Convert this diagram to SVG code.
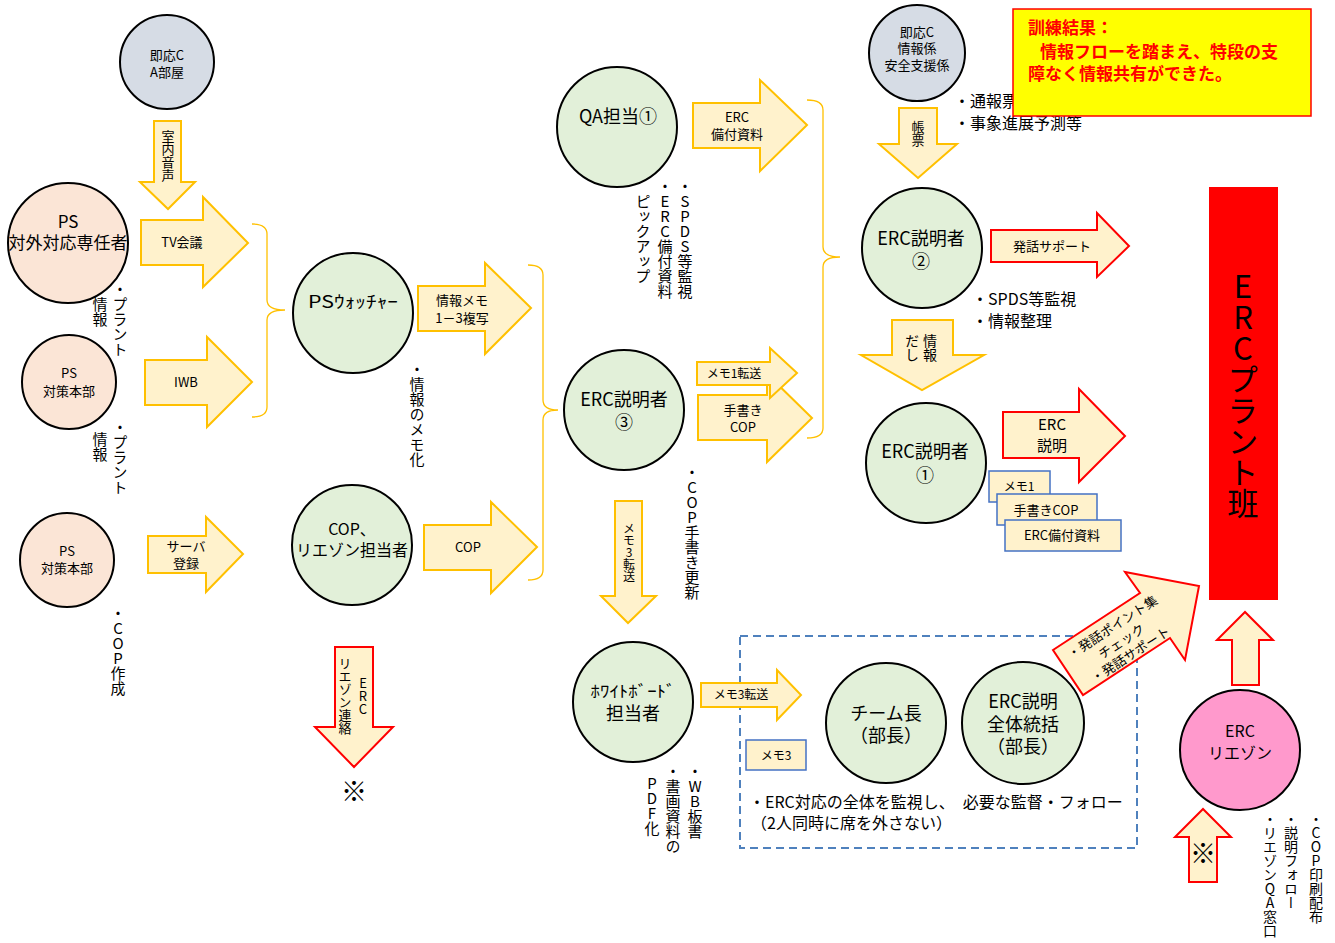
<svg xmlns="http://www.w3.org/2000/svg" width="1335" height="943" viewBox="0 0 1335 943">
<style>
.c{stroke:#000;stroke-width:2}
.g{fill:#e2f0d9}.p{fill:#fbe5d6}.b{fill:#d6dce5}.k{fill:#ff99cc}
.ya{fill:#fff2cc;stroke:#ffc000;stroke-width:2}
.ra{fill:#fff2cc;stroke:#ff0000;stroke-width:2}
.br{fill:none;stroke:#ffc000;stroke-width:1.3}
.mb{fill:#fff2cc;stroke:#4472c4;stroke-width:1.5}
text{font-family:"Noto Sans CJK JP","Noto Sans",sans-serif;fill:#000}
.m{text-anchor:middle}
.v{writing-mode:vertical-rl;text-orientation:upright}
.f12{font-size:12px}.f13{font-size:13px}.f14{font-size:14px}.f15{font-size:15px}.f16{font-size:16px}.f17{font-size:17px}.f18{font-size:18px}
.res{font-size:17px;font-weight:bold;fill:#ff0000}
</style>
<rect width="1335" height="943" fill="#fff"/>

<rect id="group-box" x="740" y="636" width="397" height="212" fill="none" stroke="#4f81bd" stroke-width="2" stroke-dasharray="8,5"/>

<g id="connectors">
  <path class="br" d="M252,224 Q267,224 267,234 L267,300 Q267,310 285,310 Q267,310 267,320 L267,407 Q267,417 252,417"/>
  <path class="br" d="M528,265 Q543,265 543,275 L543,400 Q543,410 558,410 Q543,410 543,420 L543,570 Q543,580 528,580"/>
  <path class="br" d="M807,100 Q823,100 823,110 L823,247 Q823,257 840,257 Q823,257 823,267 L823,428 Q823,438 807,438"/>

  <g id="a-shitsunai"><polygon class="ya" points="154,121 181,121 181,182 195,182 168,209 140,182 154,182"/><text class="f13 v" x="168" y="130">室内音声</text></g>
  <g id="a-tv"><polygon class="ya" points="141,220 203,220 203,197 248,243 203,287 203,265 141,265"/><text class="f13 m" x="182" y="247">TV会議</text></g>
  <g id="a-iwb"><polygon class="ya" points="145,360 207,360 207,337 252,382 207,427 207,405 145,405"/><text class="f13 m" x="186" y="387">IWB</text></g>
  <g id="a-server"><polygon class="ya" points="148,536 206,536 206,517 243,554 206,592 206,573 148,573"/><text class="f13 m" x="186" y="551">サーバ</text><text class="f13 m" x="186" y="568">登録</text></g>
  <g id="a-memo13"><polygon class="ya" points="418,286 485,286 485,263 531,308 485,354 485,331 418,331"/><text class="f13 m" x="462" y="305">情報メモ</text><text class="f13 m" x="462" y="323">1－3複写</text></g>
  <g id="a-cop"><polygon class="ya" points="424,525 491,525 491,502 537,547 491,593 491,570 424,570"/><text class="f13 m" x="468" y="552">COP</text></g>
  <g id="a-erc-doc"><polygon class="ya" points="693,103 760,103 760,80 807,125 760,171 760,148 693,148"/><text class="f13 m" x="737" y="122">ERC</text><text class="f13 m" x="737" y="139">備付資料</text></g>
  <g id="a-tegaki"><polygon class="ya" points="698,395 767,395 767,374 812,418 767,462 767,440 698,440"/><text class="f13 m" x="743" y="415">手書き</text><text class="f13 m" x="743" y="432">COP</text></g>
  <g id="a-memo1"><polygon class="ya" points="697,362 770,362 770,348 797,373 770,398 770,385 697,385"/><text class="f12 m" x="734" y="378">メモ1転送</text></g>
  <g id="a-memo3-down"><polygon class="ya" points="615,501 642,501 642,596 656,596 628,623 601,596 615,596"/><text class="f12 v" x="629" y="522">メモ3転送</text></g>
  <g id="a-memo3-right"><polygon class="ya" points="701,683 777,683 777,670 801,695 777,720 777,707 701,707"/><text class="f12 m" x="741" y="699">メモ3転送</text></g>
  <g id="a-liaison"><polygon class="ra" points="335,647 373,647 373,727 393,727 354,767 315,727 335,727"/><text class="f13 v m" x="363" y="696">ERC</text><text class="f13 v m" x="345" y="696">リエゾン連絡</text></g>
  <text class="m" x="354" y="801" font-size="26">※</text>
  <g id="a-chohyo"><polygon class="ya" points="899,108 937,108 937,144 957,144 918,178 879,144 899,144"/><text class="f13 v" x="918" y="121">帳票</text></g>
  <g id="a-joho"><polygon class="ya" points="892,320 953,320 953,355 984,355 922,390 861,355 892,355"/><text class="f14 v m" x="930" y="348">情報</text><text class="f14 v m" x="912" y="348">だし</text></g>
  <g id="a-hatsuwa"><polygon class="ra" points="991,230 1097,230 1097,213 1129,246 1097,277 1097,262 991,262"/><text class="f13 m" x="1052" y="251">発話サポート</text></g>
  <g id="a-erc-setsumei"><polygon class="ra" points="1003,412 1079,412 1079,389 1125,436 1079,482 1079,458 1003,458"/><text class="f15 m" x="1052" y="430">ERC</text><text class="f15 m" x="1052" y="451">説明</text></g>
  <g id="a-diag"><polygon class="ra" points="1053,650 1140,593 1125,572 1199,586 1185,660 1170,638 1083,695"/>
    <g transform="translate(1122,642) rotate(-33)"><text class="f13 m" x="0" y="-13">・発話ポイント集</text><text class="f13 m" x="0" y="4">チェック</text><text class="f13 m" x="0" y="20">・発話サポート</text></g></g>
  <g id="a-up-plant"><polygon class="ra" points="1232,685 1232,640 1217,640 1245,612 1273,640 1259,640 1259,685"/></g>
  <g id="a-up-kome"><polygon class="ra" points="1189,882 1189,837 1175,837 1203,809 1231,837 1217,837 1217,882"/><text class="m" x="1203" y="863" font-size="26">※</text></g>
</g>

<g id="n-sokuo-a"><circle class="c b" cx="167" cy="62" r="47"/><text class="f13 m" x="167" y="60">即応C</text><text class="f13 m" x="167" y="77">A部屋</text></g>
<g id="n-ps-taigai"><circle class="c p" cx="68" cy="243" r="60"/><text class="f17 m" x="68" y="228">PS</text><text class="f17 m" x="68" y="249">対外対応専任者</text></g>
<g id="n-ps-honbu1"><circle class="c p" cx="69" cy="382" r="47"/><text class="f13 m" x="69" y="378">PS</text><text class="f13 m" x="69" y="396">対策本部</text></g>
<g id="n-ps-honbu2"><circle class="c p" cx="67" cy="560" r="47"/><text class="f13 m" x="67" y="556">PS</text><text class="f13 m" x="67" y="573">対策本部</text></g>
<g id="n-ps-watcher"><circle class="c g" cx="353" cy="313" r="60"/><text class="f17 m" x="353" y="308" textLength="90" lengthAdjust="spacingAndGlyphs">PSｳｫｯﾁｬｰ</text></g>
<g id="n-cop-liaison"><circle class="c g" cx="352" cy="545" r="60"/><text class="f16 m" x="352" y="535">COP、</text><text class="f16 m" x="352" y="556">リエゾン担当者</text></g>
<g id="n-qa"><circle class="c g" cx="617" cy="127" r="60"/><text class="f18 m" x="618" y="123">QA担当①</text></g>
<g id="n-erc3"><circle class="c g" cx="624" cy="410" r="60"/><text class="f18 m" x="624" y="406">ERC説明者</text><text class="f18 m" x="624" y="429">③</text></g>
<g id="n-wb"><circle class="c g" cx="633" cy="702" r="60"/><text class="f16 m" x="633" y="697" textLength="85" lengthAdjust="spacingAndGlyphs">ﾎﾜｲﾄﾎﾞｰﾄﾞ</text><text class="f18 m" x="633" y="720">担当者</text></g>
<g id="n-sokuo-joho"><circle class="c b" cx="917" cy="53" r="48"/><text class="f13 m" x="917" y="37">即応C</text><text class="f13 m" x="917" y="53">情報係</text><text class="f13 m" x="917" y="70">安全支援係</text></g>
<g id="n-erc2"><circle class="c g" cx="922" cy="248" r="60"/><text class="f18 m" x="921" y="245">ERC説明者</text><text class="f18 m" x="921" y="268">②</text></g>
<g id="n-erc1"><circle class="c g" cx="926" cy="463" r="60"/><text class="f18 m" x="925" y="458">ERC説明者</text><text class="f18 m" x="925" y="482">①</text></g>
<g id="n-team"><circle class="c g" cx="886" cy="723" r="60"/><text class="f18 m" x="886" y="720">チーム長</text><text class="f18 m" x="886" y="742">（部長）</text></g>
<g id="n-erc-all"><circle class="c g" cx="1023" cy="723" r="61"/><text class="f18 m" x="1023" y="708">ERC説明</text><text class="f18 m" x="1023" y="731">全体統括</text><text class="f18 m" x="1023" y="753">（部長）</text></g>
<g id="n-erc-liaison"><circle class="c k" cx="1240" cy="750" r="60"/><text class="f16 m" x="1240" y="737">ERC</text><text class="f16 m" x="1240" y="759">リエゾン</text></g>
<g id="n-plant"><rect x="1209" y="187" width="69" height="413" fill="#ff0000"/><text class="v m" font-size="31" x="1243" y="395">ERCプラント班</text></g>

<g id="memos">
  <rect class="mb" x="989" y="471" width="61" height="31"/><text class="f12 m" x="1019" y="491">メモ1</text>
  <rect class="mb" x="997" y="494" width="100" height="31"/><text class="f13 m" x="1046" y="515">手書きCOP</text>
  <rect class="mb" x="1005" y="520" width="116" height="31"/><text class="f13 m" x="1062" y="540">ERC備付資料</text>
  <rect class="mb" x="746" y="740" width="60" height="30"/><text class="f12 m" x="776" y="760">メモ3</text>
</g>

<g id="notes">
  <text class="f15 v" x="120" y="282">・プラント</text><text class="f15 v" x="100" y="297">情報</text>
  <text class="f15 v" x="120" y="420">・プラント</text><text class="f15 v" x="100" y="432">情報</text>
  <text class="f15 v" x="118" y="606">・COP作成</text>
  <text class="f15 v" x="417" y="362">・情報のメモ化</text>
  <text class="f15 v m" x="685" y="239">・SPDS等監視</text>
  <text class="f15 v m" x="665" y="239">・ERC備付資料</text>
  <text class="f15 v m" x="643" y="239">ピックアップ</text>
  <text class="f15 v" x="692" y="465">・COP手書き更新</text>
  <text class="f15 v" x="695" y="764">・WB板書</text>
  <text class="f15 v" x="673" y="764">・書画資料の</text>
  <text class="f15 v" x="652" y="776">PDF化</text>
  <text class="f14 v" x="1316" y="812">・COP印刷配布</text>
  <text class="f14 v" x="1291" y="812">・説明フォロー</text>
  <text class="f14 v" x="1270" y="812">・リエゾンQA窓口</text>
  <text class="f16" x="954" y="107">・通報票</text>
  <text class="f16" x="954" y="129">・事象進展予測等</text>
  <text class="f16" x="972" y="305">・SPDS等監視</text>
  <text class="f16" x="972" y="327">・情報整理</text>
  <text class="f16" x="749" y="808">・ERC対応の全体を監視し、　必要な監督・フォロー</text>
  <text class="f16" x="751" y="829">（2人同時に席を外さない）</text>
</g>

<g id="result">
  <rect x="1013" y="9" width="298" height="107" fill="#ffff00" stroke="#ff0000" stroke-width="1.5"/>
  <text class="res" x="1028" y="34">訓練結果：</text>
  <text class="res" x="1040" y="58">情報フローを踏まえ、特段の支</text>
  <text class="res" x="1028" y="80">障なく情報共有ができた。</text>
</g>
</svg>
